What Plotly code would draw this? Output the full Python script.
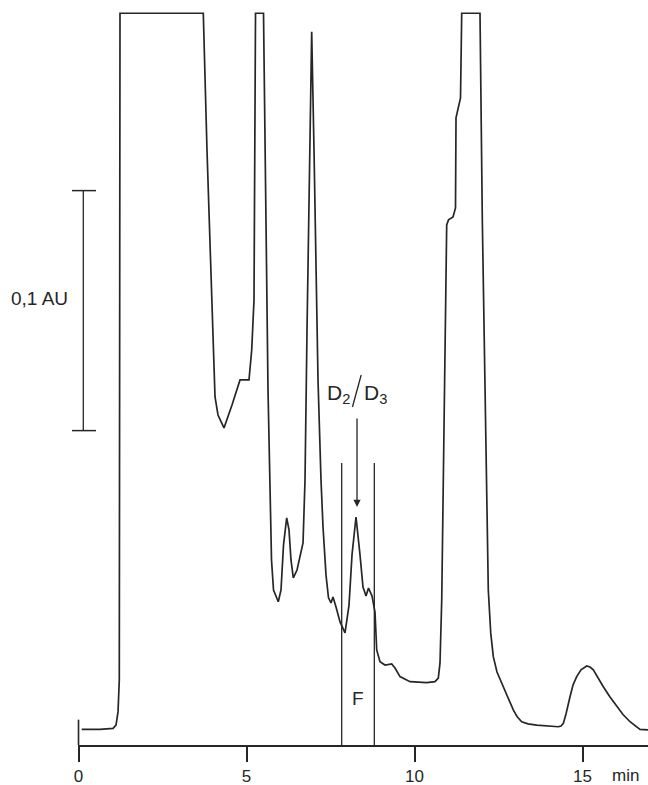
import plotly.graph_objects as go

# Chromatogram trace: time (min) and absorbance (AU)
time_min = [0.095, 0.640, 1.027, 1.116, 1.176, 1.214, 1.235, 3.714, 3.824, 3.973,
            4.063, 4.152, 4.330, 4.568, 4.807, 5.074, 5.155, 5.223, 5.268, 5.506,
            5.640, 5.744, 5.804, 5.946, 6.027, 6.101, 6.196, 6.265, 6.324, 6.393,
            6.503, 6.682, 6.741, 6.801, 6.875, 6.940, 7.009, 7.128, 7.217, 7.277,
            7.366, 7.440, 7.515, 7.574, 7.664, 7.783, 7.932, 8.051, 8.140, 8.259,
            8.378, 8.467, 8.557, 8.631, 8.735, 8.824, 8.875, 8.973, 9.122, 9.321,
            9.420, 9.568, 9.866, 10.363, 10.610, 10.708, 10.759, 10.810, 10.958, 11.012,
            11.146, 11.220, 11.235, 11.310, 11.369, 11.405, 11.949, 12.018, 12.196, 12.268,
            12.345, 12.455, 12.643, 12.783, 12.940, 13.051, 13.190, 13.378, 13.637, 14.280,
            14.360, 14.429, 14.509, 14.628, 14.717, 14.827, 14.955, 15.125, 15.223, 15.321,
            15.461, 15.619, 15.818, 16.018, 16.205, 16.414, 16.563, 16.711, 16.949]
absorbance = [0.0065, 0.0065, 0.0069, 0.0083, 0.0138, 0.0271, 0.3049, 0.3049, 0.2479, 0.1771,
              0.1450, 0.1375, 0.1321, 0.1417, 0.1521, 0.1521, 0.1646, 0.1854, 0.3049, 0.3049,
              0.1479, 0.0771, 0.0646, 0.0597, 0.0646, 0.0833, 0.0946, 0.0896, 0.0771, 0.0696,
              0.0729, 0.0842, 0.1104, 0.1729, 0.2479, 0.2972, 0.2479, 0.1521, 0.1104, 0.0908,
              0.0708, 0.0613, 0.0592, 0.0617, 0.0575, 0.0513, 0.0467, 0.0583, 0.0792, 0.0950,
              0.0792, 0.0658, 0.0621, 0.0654, 0.0621, 0.0554, 0.0396, 0.0347, 0.0333, 0.0338,
              0.0321, 0.0285, 0.0264, 0.0260, 0.0264, 0.0279, 0.0342, 0.0604, 0.2167, 0.2188,
              0.2200, 0.2238, 0.2613, 0.2654, 0.2696, 0.3049, 0.3049, 0.2188, 0.0646, 0.0467,
              0.0368, 0.0304, 0.0243, 0.0192, 0.0146, 0.0119, 0.0097, 0.0088, 0.0083, 0.0076,
              0.0079, 0.0090, 0.0129, 0.0201, 0.0250, 0.0285, 0.0313, 0.0329, 0.0325, 0.0313,
              0.0279, 0.0243, 0.0200, 0.0160, 0.0127, 0.0097, 0.0079, 0.0065, 0.0063]

tick_values = [0, 5, 10, 15]
tick_labels = ["0", "5", "10", "15"]
x_unit = "min"

# Fraction F collected between these times
fraction_bounds = [7.833, 8.804]
fraction_top = 0.1175
fraction_label = "F"

# D2/D3 peak marker
peak_time = 8.259
peak_arrow_tip = 0.0992

# Scale bar: 0.1 AU
scale_bar_top = 0.231
scale_bar_span = 0.1
scale_bar_label = "0,1 AU"

X_RANGE = [-0.015, 16.949]
Y_MAX = 0.31042
INK = "#262626"
FONT = "Liberation Sans, Arial, sans-serif"

fig = go.Figure()
fig.add_trace(go.Scatter(x=time_min, y=absorbance, mode="lines",
                         line=dict(color=INK, width=1.7), hoverinfo="skip",
                         showlegend=False))

shapes = []
# fraction boundaries
for fb in fraction_bounds:
    shapes.append(dict(type="line", xref="x", yref="y", x0=fb, x1=fb, y0=0,
                       y1=fraction_top, line=dict(color=INK, width=1.3)))
# extension of the zero tick above the axis
shapes.append(dict(type="line", xref="paper", yref="paper", x0=0.0009, x1=0.0009,
                   y0=0, y1=0.034, line=dict(color=INK, width=1.6)))
# scale bar
sb_x = 0.0093
sb_top = scale_bar_top / Y_MAX
sb_bot = (scale_bar_top - scale_bar_span) / Y_MAX
shapes.append(dict(type="line", xref="paper", yref="paper", x0=sb_x, x1=sb_x,
                   y0=sb_bot, y1=sb_top, line=dict(color=INK, width=1.3)))
for yy in (sb_top, sb_bot):
    shapes.append(dict(type="line", xref="paper", yref="paper", x0=-0.0105, x1=0.0316,
                       y0=yy, y1=yy, line=dict(color=INK, width=1.5)))
# slash between D2 and D3
shapes.append(dict(type="line", xref="paper", yref="paper", x0=0.4968, x1=0.4815,
                   y0=(745 - 375) / 745, y1=(745 - 407) / 745,
                   line=dict(color=INK, width=1.3)))

annotations = [
    dict(text=scale_bar_label, xref="paper", yref="paper", x=-0.0684, y=0.6,
         showarrow=False, font=dict(family=FONT, size=19, color=INK),
         xanchor="center", yanchor="middle"),
    dict(text="D<sub>2</sub>", xref="paper", yref="paper", x=0.4808, y=(745 - 394) / 745,
         showarrow=False, font=dict(family=FONT, size=21, color=INK),
         xanchor="right", yanchor="middle"),
    dict(text="D<sub>3</sub>", xref="paper", yref="paper", x=0.4983, y=(745 - 394) / 745,
         showarrow=False, font=dict(family=FONT, size=21, color=INK),
         xanchor="left", yanchor="middle"),
    dict(text="", x=peak_time + 0.03, y=peak_arrow_tip, xref="x", yref="y",
         showarrow=True, ax=0, ay=-90, arrowhead=2, arrowsize=1.1, arrowwidth=1.3,
         arrowcolor=INK),
    dict(text=fraction_label, x=sum(fraction_bounds) / 2, y=0.0192, xref="x", yref="y",
         showarrow=False, font=dict(family=FONT, size=19, color=INK)),
    dict(text=x_unit, x=16.29, y=-30 / 745, xref="x", yref="paper", showarrow=False,
         font=dict(family=FONT, size=17, color=INK), yanchor="middle"),
]

fig.update_layout(
    width=648, height=785,
    margin=dict(l=78, r=0, t=0, b=40, autoexpand=False),
    paper_bgcolor="white", plot_bgcolor="white",
    shapes=shapes, annotations=annotations,
    xaxis=dict(range=X_RANGE, showgrid=False, zeroline=False, showline=True,
               linecolor=INK, linewidth=1.6, ticks="outside", ticklen=15,
               tickwidth=1.6, tickcolor=INK, tickvals=tick_values, ticktext=tick_labels,
               tickfont=dict(family=FONT, size=17, color=INK), fixedrange=True),
    yaxis=dict(range=[0, Y_MAX], visible=False, fixedrange=True),
)

fig.write_html("out.html", config={"displayModeBar": False},
               post_script="document.body.style.margin='0';document.body.style.overflow='hidden';")
